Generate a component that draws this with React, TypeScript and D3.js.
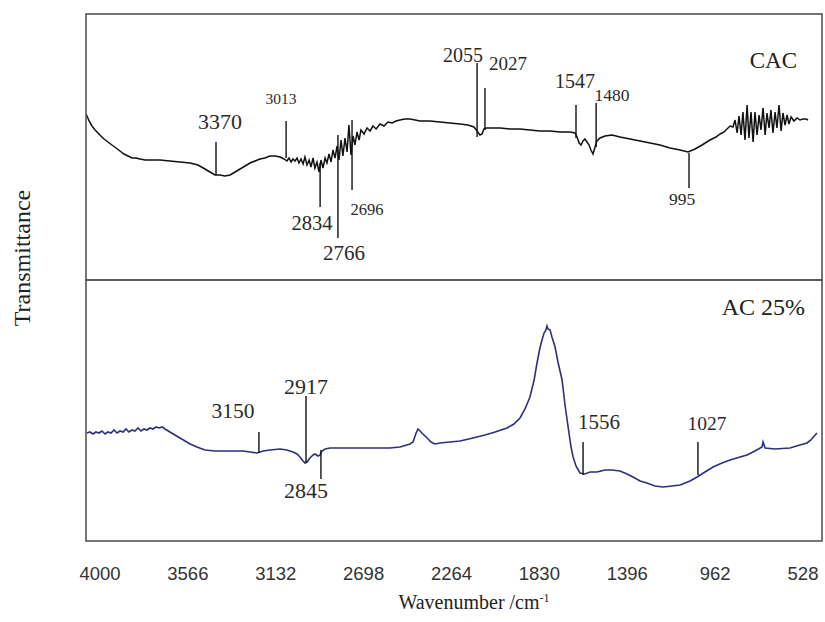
import * as d3 from "d3";

const xTickLabels = ["4000", "3566", "3132", "2698", "2264", "1830", "1396", "962", "528"];

// CAC spectrum: [wavenumber cm-1, transmittance a.u.]
const cacSpectrum: [number, number][] = [
  [3976, 66.0], [3971, 65.2], [3961, 63.2], [3947, 61.2], [3932, 59.6], [3918, 58.4],
  [3904, 57.2], [3889, 56.0], [3870, 54.8], [3851, 53.6], [3831, 52.4], [3812, 51.2],
  [3793, 50.0], [3773, 49.2], [3754, 48.4], [3735, 48.4], [3715, 48.0], [3691, 47.6],
  [3667, 47.6], [3619, 47.6], [3571, 47.2], [3523, 46.8], [3474, 46.4], [3436, 45.6],
  [3402, 44.0], [3378, 42.8], [3354, 41.6], [3330, 41.6], [3306, 41.2], [3281, 41.6],
  [3257, 42.8], [3233, 44.0], [3209, 45.2], [3185, 46.4], [3161, 47.2], [3137, 48.0],
  [3113, 48.4], [3089, 49.2], [3064, 49.2], [3040, 48.8], [3021, 48.0], [3007, 47.2],
  [2997, 48.4], [2987, 46.8], [2978, 48.0], [2968, 47.2], [2958, 48.4], [2949, 46.4],
  [2939, 48.0], [2929, 46.0], [2920, 48.8], [2910, 45.6], [2900, 47.6], [2891, 44.8],
  [2881, 48.4], [2872, 44.4], [2862, 46.8], [2852, 42.8], [2843, 47.6], [2833, 44.4],
  [2823, 48.4], [2814, 46.4], [2804, 50.0], [2794, 46.8], [2785, 51.6], [2775, 48.4],
  [2765, 53.2], [2756, 47.6], [2746, 55.6], [2737, 49.2], [2727, 56.4], [2717, 50.8],
  [2708, 61.6], [2698, 49.6], [2688, 57.2], [2679, 53.6], [2669, 58.8], [2659, 55.6],
  [2650, 59.6], [2635, 58.0], [2621, 60.4], [2606, 59.2], [2592, 61.2], [2577, 60.0],
  [2558, 62.0], [2539, 61.2], [2520, 62.8], [2500, 62.4], [2481, 63.2], [2462, 63.6],
  [2438, 64.0], [2413, 64.0], [2389, 63.6], [2365, 63.2], [2317, 63.2], [2269, 62.8],
  [2221, 62.4], [2172, 62.0], [2134, 61.6], [2105, 60.8], [2090, 59.2], [2076, 57.6],
  [2066, 58.0], [2057, 60.0], [2047, 60.4], [2028, 60.4], [1979, 60.4], [1931, 60.0],
  [1883, 60.0], [1835, 59.6], [1787, 59.2], [1738, 59.2], [1690, 58.8], [1642, 58.8],
  [1618, 58.4], [1608, 56.8], [1598, 54.4], [1589, 53.6], [1579, 55.2], [1570, 56.0],
  [1560, 54.8], [1550, 53.6], [1541, 51.6], [1531, 50.0], [1521, 52.8], [1512, 55.2],
  [1497, 56.4], [1473, 57.2], [1439, 57.6], [1401, 56.8], [1352, 56.0], [1304, 55.2],
  [1256, 54.4], [1208, 53.6], [1160, 52.4], [1111, 51.6], [1073, 50.8], [1039, 52.0],
  [1005, 53.6], [967, 55.6], [938, 56.8], [918, 58.0], [899, 58.8], [885, 60.0],
  [870, 61.2], [856, 60.8], [846, 63.6], [836, 58.4], [827, 65.2], [817, 57.6],
  [808, 66.8], [798, 55.6], [788, 69.6], [779, 56.4], [769, 66.8], [759, 54.8],
  [750, 66.8], [740, 57.6], [730, 65.6], [721, 59.6], [711, 68.4], [701, 57.6],
  [692, 66.4], [682, 60.4], [673, 67.6], [663, 58.4], [653, 66.8], [644, 60.4],
  [634, 69.6], [624, 59.2], [615, 66.4], [605, 61.6], [595, 65.6], [586, 62.0],
  [576, 64.8], [562, 63.2], [547, 64.4], [533, 63.6], [518, 64.0], [504, 64.0], [494, 63.6],
];

// AC 25% spectrum
const acSpectrum: [number, number][] = [
  [3971, 43.2], [3957, 43.6], [3942, 42.8], [3928, 43.6], [3913, 43.2], [3899, 44.0],
  [3884, 42.8], [3870, 43.6], [3855, 43.2], [3841, 44.4], [3826, 43.2], [3812, 44.0],
  [3797, 43.6], [3783, 44.8], [3769, 43.6], [3754, 44.4], [3740, 44.0], [3725, 45.2],
  [3711, 44.0], [3696, 44.8], [3682, 44.4], [3667, 45.2], [3653, 44.8], [3638, 45.6],
  [3624, 45.2], [3609, 45.6], [3595, 44.8], [3571, 43.6], [3547, 42.4], [3523, 41.2],
  [3498, 40.0], [3474, 38.8], [3441, 37.6], [3402, 36.4], [3354, 36.0], [3281, 36.0],
  [3219, 36.0], [3185, 35.6], [3151, 35.2], [3122, 36.0], [3089, 36.4], [3040, 36.8],
  [3007, 36.4], [2978, 35.6], [2958, 34.8], [2944, 33.6], [2929, 32.0], [2920, 31.2],
  [2910, 31.6], [2896, 33.2], [2881, 34.4], [2872, 34.8], [2857, 34.0], [2847, 34.4],
  [2838, 36.0], [2823, 36.8], [2799, 37.2], [2703, 37.2], [2606, 37.2], [2510, 37.2],
  [2462, 37.6], [2413, 38.8], [2399, 39.6], [2384, 43.2], [2375, 44.8], [2365, 44.0],
  [2351, 42.8], [2331, 41.2], [2312, 39.6], [2293, 38.8], [2269, 39.2], [2221, 39.6],
  [2172, 40.0], [2110, 41.2], [2052, 42.4], [2003, 43.6], [1946, 45.2], [1912, 46.8],
  [1883, 49.2], [1859, 52.8], [1835, 57.6], [1815, 64.4], [1801, 71.2], [1787, 77.2],
  [1777, 80.4], [1767, 83.2], [1758, 84.4], [1753, 86.0], [1748, 84.8], [1738, 84.4],
  [1729, 81.6], [1714, 77.6], [1700, 71.6], [1680, 64.4], [1666, 54.4], [1651, 45.6],
  [1637, 37.6], [1627, 33.6], [1613, 30.0], [1594, 27.2], [1570, 26.8], [1545, 27.6],
  [1512, 27.6], [1473, 28.4], [1439, 28.4], [1401, 28.0], [1367, 26.8], [1338, 25.6],
  [1304, 24.0], [1271, 23.2], [1232, 22.0], [1193, 21.6], [1150, 22.0], [1111, 22.4],
  [1063, 24.0], [1029, 25.6], [991, 27.6], [952, 29.6], [909, 31.2], [870, 32.4],
  [822, 33.6], [788, 34.4], [750, 36.0], [716, 37.6], [711, 39.6], [701, 37.2],
  [653, 36.8], [581, 37.2], [533, 38.4], [499, 39.2], [480, 40.4], [460, 42.4], [451, 43.2],
];

// peak markers: label, wavenumber the marker is drawn at, marker span (a.u.)
const cacPeaks = [
  { label: "3370", at: 3349, hi: 54.8, lo: 41.6 },
  { label: "3013", at: 3011, hi: 63.2, lo: 48.4 },
  { label: "2834", at: 2847, hi: 46.4, lo: 28.8 },
  { label: "2766", at: 2761, hi: 57.6, lo: 16.4 },
  { label: "2696", at: 2693, hi: 63.6, lo: 35.6 },
  { label: "2055", at: 2090, hi: 86.4, lo: 56.8 },
  { label: "2027", at: 2052, hi: 76.4, lo: 59.6 },
  { label: "1547", at: 1613, hi: 69.6, lo: 56.4 },
  { label: "1480", at: 1516, hi: 70.4, lo: 52.8 },
  { label: "995", at: 1068, hi: 50.4, lo: 36.4 },
];

const acPeaks = [
  { label: "3150", at: 3142, hi: 43.6, lo: 35.2 },
  { label: "2917", at: 2915, hi: 58.0, lo: 31.2 },
  { label: "2845", at: 2843, hi: 36.4, lo: 24.8 },
  { label: "1556", at: 1579, hi: 39.6, lo: 26.4 },
  { label: "1027", at: 1025, hi: 39.6, lo: 26.4 },
];

// where each peak label sits relative to its marker
const labelPlace: Record<string, { side: "top" | "bottom"; dx: number; gap: number; size: number }> = {
  "3370": { side: "top", dx: 4, gap: 13, size: 22 },
  "3013": { side: "top", dx: -5, gap: 17, size: 15.5 },
  "2834": { side: "bottom", dx: -8, gap: 23, size: 20.5 },
  "2766": { side: "bottom", dx: 6, gap: 22, size: 21 },
  "2696": { side: "bottom", dx: 15, gap: 25, size: 16.5 },
  "2055": { side: "top", dx: -14, gap: 1, size: 20 },
  "2027": { side: "top", dx: 23, gap: 18, size: 19 },
  "1547": { side: "top", dx: -1, gap: 17, size: 20 },
  "1480": { side: "top", dx: 16, gap: 2, size: 17.5 },
  "995": { side: "bottom", dx: -7, gap: 17, size: 17.5 },
  "3150": { side: "top", dx: -26, gap: 14, size: 21.5 },
  "2917": { side: "top", dx: 0, gap: 2, size: 22 },
  "2845": { side: "bottom", dx: -15, gap: 19, size: 22 },
  "1556": { side: "top", dx: 16, gap: 13, size: 21 },
  "1027": { side: "top", dx: 9, gap: 12, size: 19.5 },
};

const W = 825;
const H = 622;
const left = 86;
const right = 822;
const top = 14;
const mid = 280;
const bottom = 541;
const serif = "'Liberation Serif', 'Times New Roman', serif";

export default function App() {
  const x = d3.scaleLinear().domain([4000, 528]).range([81, 801]);
  const xTick = d3.scalePoint().domain(xTickLabels).range([100, 803]);
  const yTop = d3.scaleLinear().domain([0, 106]).range([279, 14]);
  const yBot = d3.scaleLinear().domain([0, 104.4]).range([541, 280]);

  const lineTop = d3.line<[number, number]>().x((d) => x(d[0])).y((d) => yTop(d[1]));
  const lineBot = d3.line<[number, number]>().x((d) => x(d[0])).y((d) => yBot(d[1]));

  const peaks = (list: typeof cacPeaks, y: d3.ScaleLinear<number, number>) =>
    list.map((p) => {
      const px = x(p.at);
      const y1 = y(p.hi);
      const y2 = y(p.lo);
      const lp = labelPlace[p.label];
      const ty = lp.side === "top" ? y1 - lp.gap : y2 + lp.gap;
      return (
        <g key={p.label}>
          <line x1={px} x2={px} y1={y1} y2={y2} stroke="#111" strokeWidth={1.4} />
          <text x={px + lp.dx} y={ty} textAnchor="middle" fontFamily={serif} fontSize={lp.size} fill="#2a2a2a">
            {p.label}
          </text>
        </g>
      );
    });

  return (
    <svg width={W} height={H} style={{ position: "absolute", left: 0, top: 0, background: "#fff" }}>
      <defs>
        <clipPath id="clipTop">
          <rect x={left} y={top} width={right - left} height={mid - top} />
        </clipPath>
        <clipPath id="clipBot">
          <rect x={left} y={mid} width={right - left} height={bottom - mid} />
        </clipPath>
      </defs>

      <path d={lineTop(cacSpectrum) ?? ""} fill="none" stroke="#111" strokeWidth={1.5} clipPath="url(#clipTop)" />
      <path d={lineBot(acSpectrum) ?? ""} fill="none" stroke="#2e2f7e" strokeWidth={1.6} clipPath="url(#clipBot)" />

      {peaks(cacPeaks, yTop)}
      {peaks(acPeaks, yBot)}

      <text x={797} y={68} textAnchor="end" fontFamily={serif} fontSize={23} fill="#222">CAC</text>
      <text x={805} y={315} textAnchor="end" fontFamily={serif} fontSize={24} fill="#222">AC 25%</text>

      <rect x={left} y={top} width={right - left} height={mid - top} fill="none" stroke="#555" strokeWidth={1.6} />
      <rect x={left} y={mid} width={right - left} height={bottom - mid} fill="none" stroke="#555" strokeWidth={1.6} />

      {xTickLabels.map((t) => (
        <text key={t} x={xTick(t)} y={580} textAnchor="middle" fontFamily="'Liberation Sans', Arial, sans-serif" fontSize={18.5} fill="#333">
          {t}
        </text>
      ))}

      <text x={474} y={609} textAnchor="middle" fontFamily={serif} fontSize={20} fill="#222">
        Wavenumber /cm<tspan dy={-7} fontSize={12}>-1</tspan>
      </text>
      <text transform="translate(30,258) rotate(-90)" textAnchor="middle" fontFamily={serif} fontSize={24} fill="#222">
        Transmittance
      </text>
    </svg>
  );
}
